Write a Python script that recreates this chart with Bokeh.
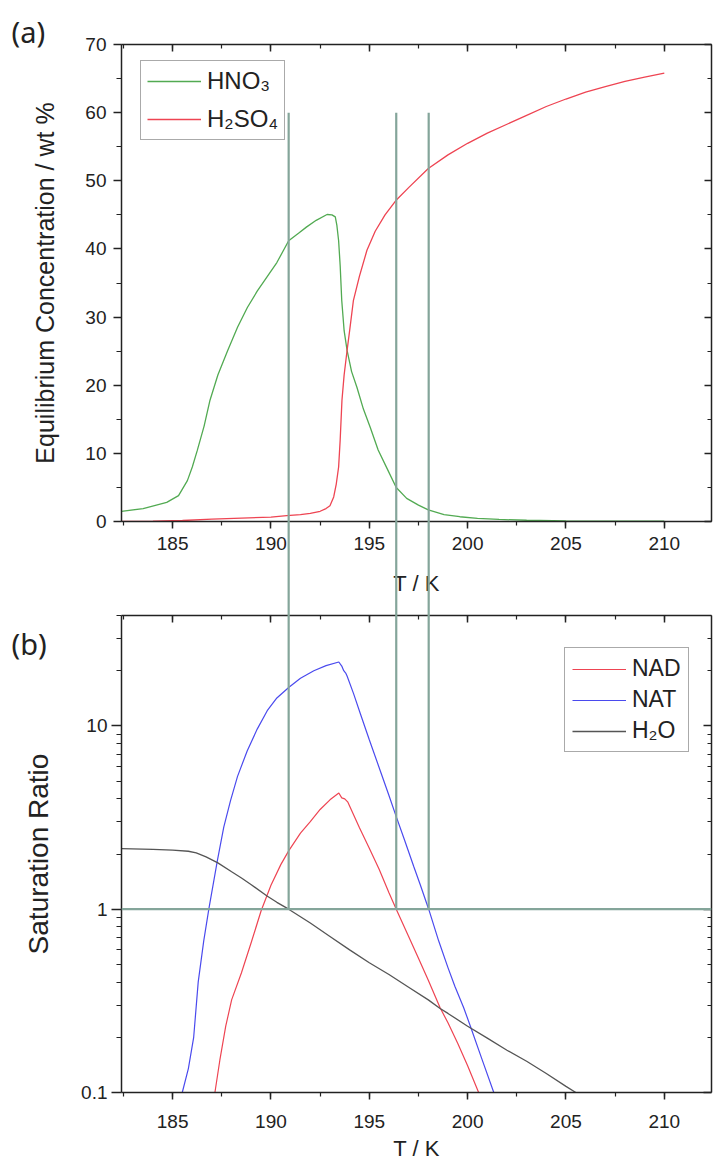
from bokeh.plotting import figure
from bokeh.models import (LinearAxis, LogAxis, FixedTicker, SingleIntervalTicker, Range1d,
                          Legend, LegendItem, Span, CustomJSTickFormatter)
from bokeh.core.properties import value
from bokeh.layouts import column
from bokeh.embed import file_html
from bokeh.resources import INLINE

# ---------------- data ----------------
# panel (a): equilibrium concentration (wt %)
t_hno3 = [182.4, 183.5, 184.7, 185.3, 185.75, 186.0, 186.25, 186.6, 186.9, 187.3, 187.8, 188.3,
          188.8, 189.3, 189.8, 190.3, 190.9, 191.4, 191.8, 192.3, 192.85, 193.1, 193.27, 193.35,
          193.44, 193.52, 193.6, 193.72, 193.87, 194.1, 194.37, 194.7, 195.05, 195.45, 195.9,
          196.37, 196.9, 197.5, 198.0, 198.8, 199.6, 200.5, 201.6, 203.0, 205.0, 207.0, 210.0]
c_hno3 = [1.5, 1.9, 2.8, 3.8, 6.0, 8.0, 10.4, 14.0, 17.8, 21.5, 25.1, 28.5,
          31.4, 33.8, 35.9, 38.0, 41.2, 42.3, 43.2, 44.2, 45.05, 45.0, 44.7, 43.5,
          41.2, 37.5, 32.4, 28.0, 25.1, 22.0, 19.7, 16.5, 13.8, 10.5, 7.8,
          5.0, 3.4, 2.4, 1.7, 1.0, 0.7, 0.45, 0.3, 0.18, 0.1, 0.06, 0.04]

t_h2so4 = [182.4, 184.0, 185.5, 187.0, 188.5, 190.0, 190.8, 191.5, 192.0, 192.5, 192.8, 193.0,
           193.19, 193.32, 193.44, 193.52, 193.61, 193.72, 193.87, 194.0, 194.19, 194.5, 194.88,
           195.3, 195.8, 196.35, 197.0, 198.0, 199.0, 200.0, 201.0, 202.0, 203.0, 204.0, 205.0,
           206.0, 207.0, 208.0, 209.0, 210.0]
c_h2so4 = [0.0, 0.05, 0.15, 0.35, 0.5, 0.65, 0.85, 1.0, 1.2, 1.5, 1.9, 2.3,
           3.6, 5.5, 8.0, 12.0, 17.8, 21.5, 25.1, 28.0, 32.4, 36.0, 39.8,
           42.6, 45.0, 47.1, 49.0, 51.8, 53.8, 55.5, 57.0, 58.3, 59.6, 60.9, 62.0,
           63.0, 63.8, 64.6, 65.2, 65.8]

# panel (b): saturation ratios
t_nad = [187.15, 187.4, 187.7, 188.0, 188.5, 189.0, 189.5, 190.0, 190.5, 190.9, 191.5, 192.0,
         192.5, 193.0, 193.45, 193.6, 193.75, 193.9, 194.5, 195.0, 195.5, 196.0, 196.37, 197.0,
         197.5, 198.0, 198.6, 199.0, 199.5, 200.0, 200.56]
s_nad = [0.1, 0.15, 0.23, 0.32, 0.45, 0.66, 0.98, 1.35, 1.75, 2.08, 2.6, 3.0,
         3.5, 3.95, 4.3, 4.05, 4.0, 3.85, 2.78, 2.15, 1.65, 1.23, 1.0, 0.71,
         0.54, 0.41, 0.29, 0.24, 0.185, 0.14, 0.1]

t_nat = [185.49, 185.8, 186.07, 186.3, 186.58, 186.84, 187.27, 187.6, 187.94, 188.3, 188.79,
         189.3, 189.81, 190.3, 190.9, 191.5, 192.18, 192.8, 193.45, 193.6, 193.7, 193.8, 193.87,
         194.2, 194.55, 195.0, 195.57, 196.0, 196.37, 196.8, 197.26, 197.6, 198.02, 198.53,
         199.0, 199.35, 199.8, 200.14, 200.7, 201.33]
s_nat = [0.1, 0.135, 0.2, 0.4, 0.67, 1.0, 1.83, 2.8, 3.9, 5.3, 7.3,
         9.6, 12.1, 14.2, 16.2, 18.2, 20.0, 21.3, 22.3, 21.2, 20.0, 19.4, 18.7,
         15.0, 11.6, 8.4, 5.64, 4.17, 3.2, 2.37, 1.71, 1.35, 1.0, 0.67,
         0.48, 0.38, 0.29, 0.23, 0.155, 0.1]

t_h2o = [182.4, 184.0, 185.0, 185.8, 186.2, 186.7, 187.3, 188.0, 188.5, 189.0, 189.8, 190.3,
         190.9, 191.5, 192.0, 193.0, 194.0, 195.0, 196.0, 197.0, 198.0, 198.6, 199.0, 200.0,
         201.0, 202.0, 203.0, 204.0, 205.0, 205.5]
s_h2o = [2.14, 2.12, 2.10, 2.07, 2.03, 1.93, 1.79, 1.60, 1.48, 1.36, 1.18, 1.09,
         1.0, 0.91, 0.84, 0.71, 0.60, 0.51, 0.44, 0.375, 0.32, 0.287, 0.27, 0.23,
         0.198, 0.17, 0.148, 0.127, 0.108, 0.1]

# marker lines (temperatures where saturation ratio = 1)
marker_t = [190.9, 196.37, 198.02]
marker_top_a = 60.0
marker_level_b = 1.0

x_limits = (182.4, 212.4)
y_limits_a = (0, 70)
y_limits_b = (0.1, 40)
log_majors = [0.1, 1, 10]
log_minors = [m * d for d in (0.1, 1, 10) for m in range(2, 10) if m * d <= 40]

# ---------------- style ----------------
FONT = "Liberation Sans"
C_HNO3 = "#52aa52"
C_RED = "#ee4452"
C_BLUE = "#4a4aee"
C_H2O = "#555555"
C_MARK = "#84a59a"
AX = "#222222"
HIDE = CustomJSTickFormatter(code="return ''")


def style_axis(ax, labels=True, inward=False, major_len=7, minor_len=4):
    ax.axis_line_color = AX
    ax.axis_line_width = 1.5
    ax.major_tick_line_color = AX
    ax.major_tick_line_width = 1.5
    ax.minor_tick_line_color = AX
    ax.minor_tick_line_width = 1.2
    if inward:
        ax.major_tick_in, ax.major_tick_out = major_len, 0
        ax.minor_tick_in, ax.minor_tick_out = minor_len, 0
    else:
        ax.major_tick_in, ax.major_tick_out = 0, major_len
        ax.minor_tick_in, ax.minor_tick_out = 0, minor_len
    ax.major_label_text_font = FONT
    ax.major_label_text_font_size = "19px"
    ax.major_label_text_color = AX
    ax.axis_label_text_font = FONT
    ax.axis_label_text_font_size = "22px"
    ax.axis_label_text_font_style = "normal"
    ax.axis_label_text_color = AX
    if not labels:
        ax.formatter = HIDE
        ax.major_label_standoff = 0


def panel_tag(p, x0, y0, txt, dy):
    # panel letter, floated in pixels from the frame's top-left corner
    p.text(x=[x0], y=[y0], text=[txt], x_offset=-110, y_offset=dy,
           text_font=value("Noto Sans"), text_font_size="29px", text_color=AX,
           text_baseline="middle", text_align="left", level="overlay")


# ---------------- panel (a) ----------------
pa = figure(width=713, height=600, x_range=Range1d(*x_limits), y_range=Range1d(*y_limits_a),
            x_axis_location=None, y_axis_location=None, output_backend="svg",
            toolbar_location=None, min_border_left=121, min_border_right=2,
            min_border_top=44, min_border_bottom=79)
pa.grid.visible = False
pa.outline_line_color = None

xb = LinearAxis(ticker=SingleIntervalTicker(interval=5, num_minor_ticks=2), axis_label="T / K")
style_axis(xb)
xb.major_label_standoff = 8
xb.axis_label_standoff = 18
pa.add_layout(xb, "below")
xt = LinearAxis(ticker=SingleIntervalTicker(interval=5, num_minor_ticks=2))
style_axis(xt, labels=False, inward=True)
pa.add_layout(xt, "above")
yl = LinearAxis(ticker=SingleIntervalTicker(interval=10, num_minor_ticks=2),
                axis_label="Equilibrium Concentration / wt %")
style_axis(yl, major_len=8, minor_len=5)
yl.major_label_standoff = 7
yl.axis_label_standoff = 23
yl.axis_label_text_font_size = "25px"
pa.add_layout(yl, "left")
yr = LinearAxis(ticker=SingleIntervalTicker(interval=10, num_minor_ticks=2))
style_axis(yr, labels=False, inward=True)
pa.add_layout(yr, "right")

r_hno3 = pa.line(t_hno3, c_hno3, line_color=C_HNO3, line_width=1.3)
r_h2so4 = pa.line(t_h2so4, c_h2so4, line_color=C_RED, line_width=1.3)
pa.segment(x0=marker_t, y0=[marker_top_a] * 3, x1=marker_t, y1=[-200] * 3,
           line_color=C_MARK, line_width=2.2, level="overlay")

leg_a = Legend(items=[LegendItem(label="HNO₃", renderers=[r_hno3]),
                      LegendItem(label="H₂SO₄", renderers=[r_h2so4])],
               location=(19, 381), label_text_font=FONT, label_text_font_size="24px",
               label_text_color=AX, glyph_width=54, glyph_height=24, label_height=24,
               spacing=10, padding=6, margin=0, label_standoff=6,
               border_line_color="#555555", border_line_width=1.5,
               background_fill_color="white", background_fill_alpha=1)
pa.add_layout(leg_a, "center")
panel_tag(pa, x_limits[0], y_limits_a[1], "(a)", -13)

# ---------------- panel (b) ----------------
pb = figure(width=713, height=563, x_range=Range1d(*x_limits), y_range=Range1d(*y_limits_b),
            y_axis_type="log", x_axis_location=None, y_axis_location=None,
            output_backend="svg", toolbar_location=None, min_border_left=121,
            min_border_right=2, min_border_top=15, min_border_bottom=71)
pb.grid.visible = False
pb.outline_line_color = None

xb2 = LinearAxis(ticker=SingleIntervalTicker(interval=5, num_minor_ticks=2), axis_label="T / K")
style_axis(xb2)
xb2.major_label_standoff = 15
xb2.axis_label_standoff = 5
pb.add_layout(xb2, "below")
xt2 = LinearAxis(ticker=SingleIntervalTicker(interval=5, num_minor_ticks=2))
style_axis(xt2, labels=False, inward=True)
pb.add_layout(xt2, "above")
yl2 = LogAxis(ticker=FixedTicker(ticks=log_majors, minor_ticks=log_minors),
              axis_label="Saturation Ratio",
              formatter=CustomJSTickFormatter(code="return String(tick)"))
style_axis(yl2, major_len=10, minor_len=5)
yl2.major_label_standoff = 4
yl2.axis_label_standoff = 24
yl2.axis_label_text_font_size = "28px"
pb.add_layout(yl2, "left")
yr2 = LogAxis(ticker=FixedTicker(ticks=log_majors, minor_ticks=log_minors))
style_axis(yr2, labels=False, inward=True, major_len=8, minor_len=4)
pb.add_layout(yr2, "right")

r_nad = pb.line(t_nad, s_nad, line_color=C_RED, line_width=1.2)
r_nat = pb.line(t_nat, s_nat, line_color=C_BLUE, line_width=1.2)
r_h2o = pb.line(t_h2o, s_h2o, line_color=C_H2O, line_width=1.3)
pb.add_layout(Span(location=marker_level_b, dimension="width", line_color=C_MARK, line_width=2.2))
pb.segment(x0=marker_t, y0=[1e6] * 3, x1=marker_t, y1=[marker_level_b] * 3,
           line_color=C_MARK, line_width=2.2, level="overlay")

leg_b = Legend(items=[LegendItem(label="NAD", renderers=[r_nad]),
                      LegendItem(label="NAT", renderers=[r_nat]),
                      LegendItem(label="H₂O", renderers=[r_h2o])],
               location=(443, 340), label_text_font=FONT, label_text_font_size="23px",
               label_text_color=AX, glyph_width=54, glyph_height=24, label_height=24,
               spacing=4, padding=7, margin=0, label_standoff=6,
               border_line_color="#555555", border_line_width=1.5,
               background_fill_color="white", background_fill_alpha=1)
pb.add_layout(leg_b, "center")
panel_tag(pb, x_limits[0], y_limits_b[1], "(b)", 28)

layout = column(pa, pb, spacing=0)
open("out.html", "w").write(file_html(layout, INLINE))
